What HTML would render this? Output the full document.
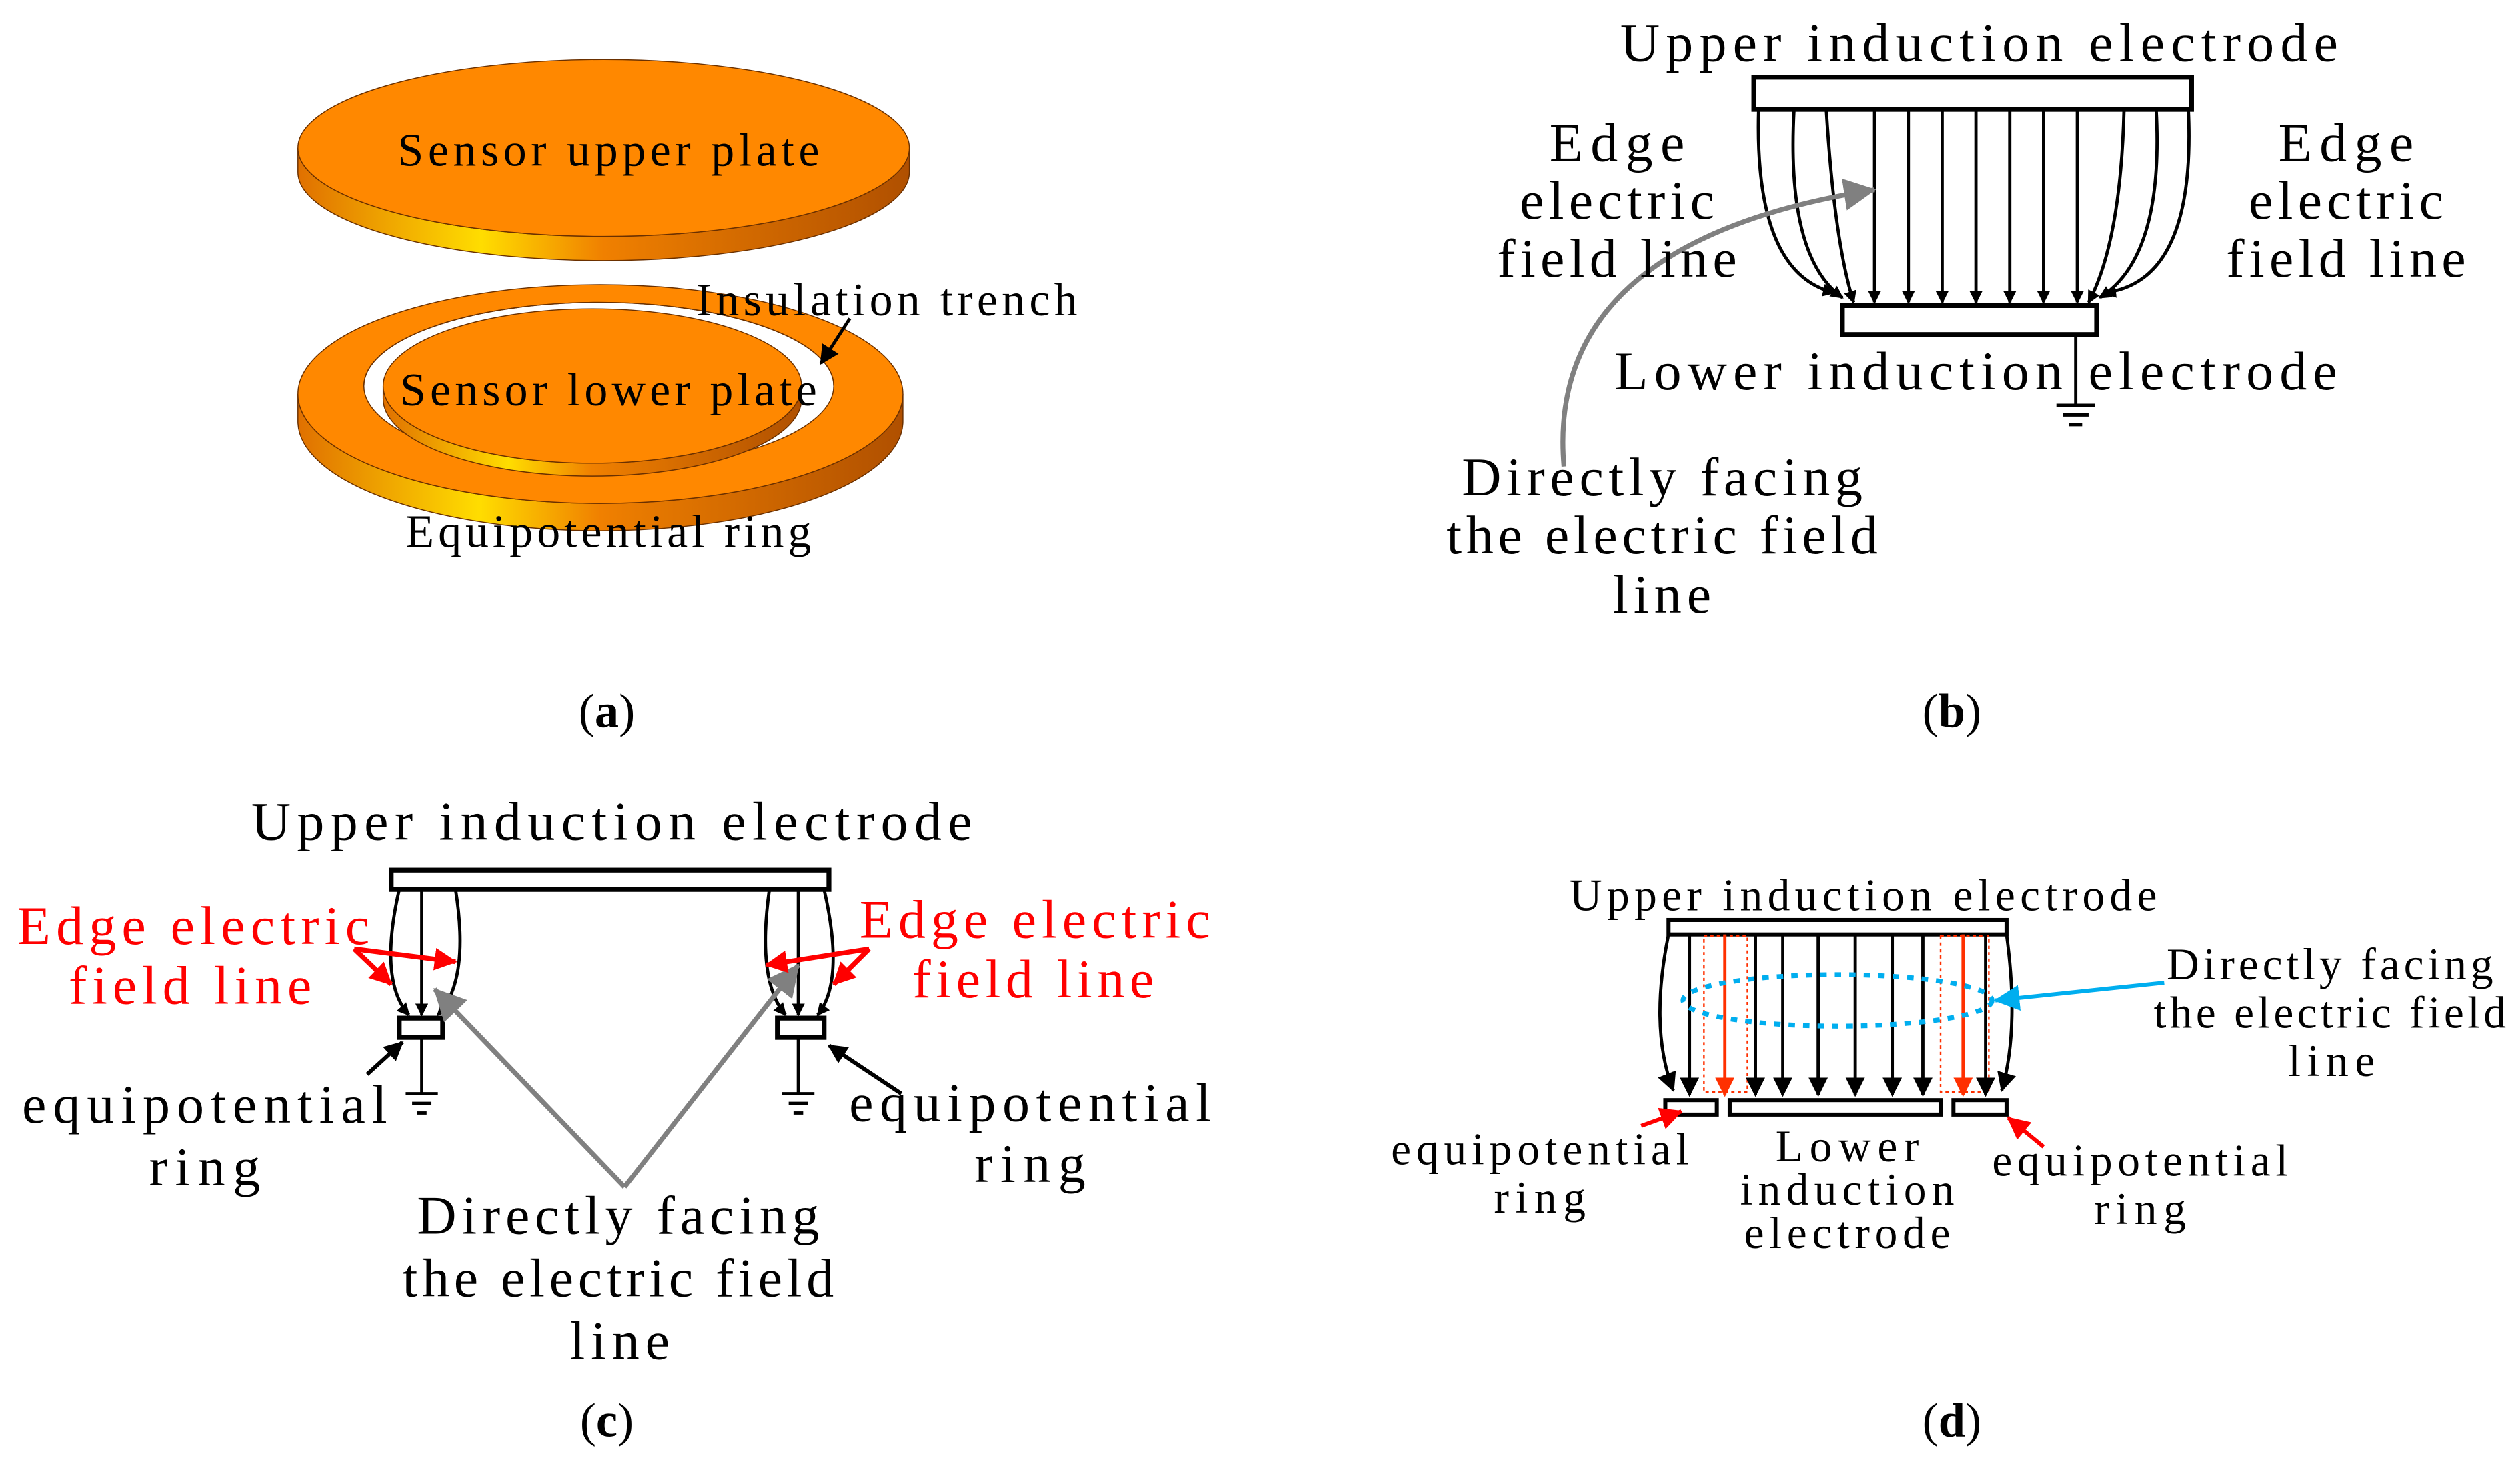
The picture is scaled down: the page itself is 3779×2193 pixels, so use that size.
<!DOCTYPE html>
<html><head><meta charset="utf-8"><style>html,body{margin:0;padding:0;background:#fff}svg{display:block}</style></head>
<body>
<svg width="3779" height="2193" viewBox="0 0 1566 909" xmlns="http://www.w3.org/2000/svg" font-family="'Liberation Serif', serif">
<defs>
<linearGradient id="side" x1="0" x2="1" y1="0" y2="0">
<stop offset="0" stop-color="#e07000"/><stop offset="0.3" stop-color="#ffdd00"/><stop offset="0.5" stop-color="#f08000"/><stop offset="1" stop-color="#b05000"/></linearGradient>
<marker id="ab" markerWidth="8" markerHeight="8" refX="7" refY="4" orient="auto" markerUnits="userSpaceOnUse"><path d="M0,0 L8,4 L0,8 z" fill="#000"/></marker>
<marker id="abig" markerWidth="12" markerHeight="12" refX="11" refY="6" orient="auto" markerUnits="userSpaceOnUse"><path d="M0,0 L12,6 L0,12 z" fill="#000"/></marker>
<marker id="ar" markerWidth="12" markerHeight="12" refX="11" refY="6" orient="auto" markerUnits="userSpaceOnUse"><path d="M0,0 L12,6 L0,12 z" fill="#ff3000"/></marker>
<marker id="ared" markerWidth="14" markerHeight="14" refX="13" refY="7" orient="auto" markerUnits="userSpaceOnUse"><path d="M0,0 L14,7 L0,14 z" fill="#f00"/></marker>
<marker id="ag" markerWidth="20" markerHeight="20" refX="19" refY="10" orient="auto" markerUnits="userSpaceOnUse"><path d="M0,0 L20,10 L0,20 z" fill="#808080"/></marker>
<marker id="abl" markerWidth="16" markerHeight="16" refX="15" refY="8" orient="auto" markerUnits="userSpaceOnUse"><path d="M0,0 L16,8 L0,16 z" fill="#00aeef"/></marker>
</defs>

<!-- Panel a -->
<g stroke="#6a3000" stroke-width="0.6">
<path d="M185,92 A190,55 0 0 0 565,92 L565,107 A190,55 0 0 1 185,107 Z" fill="url(#side)"/>
<ellipse cx="375" cy="92" rx="190" ry="55" fill="#ff8800"/>
<path d="M185,245 A188,68 0 0 0 561,245 L561,262 A188,68 0 0 1 185,262 Z" fill="url(#side)"/>
<ellipse cx="373" cy="245" rx="188" ry="68" fill="#ff8800"/>
<ellipse cx="372" cy="240" rx="146" ry="52" fill="#fff"/>
<path d="M226,240 A146,52 0 0 1 518,240 A146,52 0 0 0 226,240Z" fill="#e07a00"/>
<path d="M238,240 A130,48 0 0 0 498,240 L498,248 A130,48 0 0 1 238,248 Z" fill="url(#side)"/>
<ellipse cx="368" cy="240" rx="130" ry="48" fill="#ff8800"/>
</g>
<g font-size="29" fill="#000" text-anchor="middle" lengthAdjust="spacingAndGlyphs">
<text x="378" y="103" textLength="262">Sensor upper plate</text>
<text x="378" y="252" textLength="259">Sensor lower plate</text>
<text x="551" y="196" textLength="237">Insulation trench</text>
<text x="378" y="340" textLength="252">Equipotential ring</text>
</g>
<line x1="528" y1="198" x2="510" y2="226" stroke="#000" stroke-width="2" marker-end="url(#abig)"/>
<text x="377" y="452" font-size="30" text-anchor="middle">(<tspan font-weight="bold">a</tspan>)</text>

<!-- Panel b -->
<rect x="1090" y="48" width="272" height="20" fill="#fff" stroke="#000" stroke-width="3"/>
<rect x="1145" y="190" width="158" height="18" fill="#fff" stroke="#000" stroke-width="3"/>
<g stroke="#000" stroke-width="2" fill="none" marker-end="url(#ab)">
<line x1="1165" y1="68" x2="1165" y2="188"/><line x1="1186" y1="68" x2="1186" y2="188"/>
<line x1="1207" y1="68" x2="1207" y2="188"/><line x1="1228" y1="68" x2="1228" y2="188"/>
<line x1="1249" y1="68" x2="1249" y2="188"/><line x1="1270" y1="68" x2="1270" y2="188"/>
<line x1="1291" y1="68" x2="1291" y2="188"/>
<path d="M1135,68 Q1140,150 1152,188"/>
<path d="M1115,68 Q1110,160 1145,185"/>
<path d="M1093,68 Q1090,170 1140,182"/>
<path d="M1320,68 Q1318,150 1298,188"/>
<path d="M1340,68 Q1345,160 1305,185"/>
<path d="M1360,68 Q1365,175 1308,182"/>
</g>
<line x1="1290" y1="208" x2="1290" y2="252" stroke="#000" stroke-width="2"/>
<g stroke="#000" stroke-width="2"><line x1="1278" y1="252" x2="1302" y2="252"/><line x1="1282" y1="258" x2="1298" y2="258"/><line x1="1286" y1="264" x2="1294" y2="264"/></g>
<path d="M972,290 Q960,150 1165,118" stroke="#808080" stroke-width="3" fill="none" marker-end="url(#ag)"/>
<g font-size="34" fill="#000" text-anchor="middle" lengthAdjust="spacingAndGlyphs">
<text x="1230" y="38" textLength="446">Upper induction electrode</text>
<text x="1005" y="100" textLength="84">Edge</text><text x="1005" y="136" textLength="121">electric</text><text x="1005" y="172" textLength="149">field line</text>
<text x="1458" y="100" textLength="84">Edge</text><text x="1458" y="136" textLength="121">electric</text><text x="1458" y="172" textLength="149">field line</text>
<text x="1228" y="242" textLength="449">Lower induction electrode</text>
<text x="1033" y="308" textLength="249">Directly facing</text><text x="1033" y="344" textLength="268">the electric field</text><text x="1033" y="381" textLength="61">line</text>
</g>
<text x="1213" y="452" font-size="30" text-anchor="middle">(<tspan font-weight="bold">b</tspan>)</text>

<!-- Panel c -->
<rect x="243" y="541" width="272" height="12" fill="#fff" stroke="#000" stroke-width="3"/>
<rect x="248" y="633" width="27" height="12" fill="#fff" stroke="#000" stroke-width="3"/>
<rect x="483" y="633" width="29" height="12" fill="#fff" stroke="#000" stroke-width="3"/>
<g stroke="#000" stroke-width="2" fill="none" marker-end="url(#ab)">
<line x1="262" y1="553" x2="262" y2="631"/>
<path d="M248,553 Q235,610 254,631"/>
<path d="M283,553 Q292,610 272,631"/>
<line x1="496" y1="553" x2="496" y2="631"/>
<path d="M478,553 Q470,610 488,631"/>
<path d="M512,553 Q525,610 508,631"/>
</g>
<g stroke="#000" stroke-width="2">
<line x1="262" y1="645" x2="262" y2="680"/><line x1="252" y1="680" x2="272" y2="680"/><line x1="256" y1="686" x2="268" y2="686"/><line x1="259" y1="692" x2="265" y2="692"/>
<line x1="496" y1="645" x2="496" y2="680"/><line x1="486" y1="680" x2="506" y2="680"/><line x1="490" y1="686" x2="502" y2="686"/><line x1="493" y1="692" x2="499" y2="692"/>
</g>
<g stroke="#808080" stroke-width="3" fill="none" marker-end="url(#ag)">
<line x1="388" y1="738" x2="270" y2="615"/><line x1="388" y1="738" x2="496" y2="600"/>
</g>
<g stroke="#f00" stroke-width="3" fill="none" marker-end="url(#ared)">
<line x1="220" y1="590" x2="283" y2="598"/><line x1="220" y1="590" x2="243" y2="612"/>
<line x1="540" y1="590" x2="476" y2="600"/><line x1="540" y1="590" x2="518" y2="612"/>
</g>
<g stroke="#000" stroke-width="2.5" marker-end="url(#abig)">
<line x1="228" y1="668" x2="250" y2="648"/><line x1="560" y1="680" x2="515" y2="650"/>
</g>
<g font-size="34" text-anchor="middle" lengthAdjust="spacingAndGlyphs">
<text x="380" y="522" textLength="448">Upper induction electrode</text>
<text x="120" y="587" fill="#f00" textLength="219">Edge electric</text><text x="118" y="624" fill="#f00" textLength="151">field line</text>
<text x="643" y="583" fill="#f00" textLength="218">Edge electric</text><text x="642" y="620" fill="#f00" textLength="150">field line</text>
<text x="127" y="698" textLength="227">equipotential</text><text x="127" y="737" textLength="69">ring</text>
<text x="640" y="697" textLength="225">equipotential</text><text x="640" y="735" textLength="69">ring</text>
<text x="384" y="767" textLength="250">Directly facing</text><text x="384" y="806" textLength="268">the electric field</text><text x="385" y="845" textLength="62">line</text>
</g>
<text x="377" y="893" font-size="30" text-anchor="middle">(<tspan font-weight="bold">c</tspan>)</text>

<!-- Panel d -->
<rect x="1037" y="572" width="210" height="9" fill="#fff" stroke="#000" stroke-width="2.5"/>
<rect x="1035" y="684" width="32" height="9" fill="#fff" stroke="#000" stroke-width="2.5"/>
<rect x="1075" y="684" width="131" height="9" fill="#fff" stroke="#000" stroke-width="2.5"/>
<rect x="1214" y="684" width="33" height="9" fill="#fff" stroke="#000" stroke-width="2.5"/>
<g stroke="#ff3000" stroke-width="1" stroke-dasharray="2,2" fill="none">
<rect x="1059" y="582" width="27" height="97"/><rect x="1206" y="582" width="30" height="97"/>
</g>
<g stroke="#000" stroke-width="2" fill="none" marker-end="url(#abig)">
<line x1="1050" y1="581" x2="1050" y2="681"/>
<line x1="1091" y1="581" x2="1091" y2="681"/><line x1="1108" y1="581" x2="1108" y2="681"/>
<line x1="1130" y1="581" x2="1130" y2="681"/><line x1="1153" y1="581" x2="1153" y2="681"/>
<line x1="1176" y1="581" x2="1176" y2="681"/><line x1="1195" y1="581" x2="1195" y2="681"/>
<line x1="1234" y1="581" x2="1234" y2="681"/>
<path d="M1037,581 Q1025,640 1040,678"/>
<path d="M1247,581 Q1255,640 1244,678"/>
</g>
<g stroke="#ff3000" stroke-width="2" marker-end="url(#ar)">
<line x1="1072" y1="581" x2="1072" y2="681"/><line x1="1220" y1="581" x2="1220" y2="681"/>
</g>
<ellipse cx="1142" cy="622" rx="96" ry="16" fill="none" stroke="#00aeef" stroke-width="3" stroke-dasharray="4,5"/>
<line x1="1345" y1="611" x2="1240" y2="622" stroke="#00aeef" stroke-width="2.5" marker-end="url(#abl)"/>
<g stroke="#f00" stroke-width="2.5" marker-end="url(#ared)">
<line x1="1020" y1="700" x2="1045" y2="691"/><line x1="1270" y1="713" x2="1248" y2="695"/>
</g>
<g font-size="28" text-anchor="middle" lengthAdjust="spacingAndGlyphs">
<text x="1158" y="566" textLength="365">Upper induction electrode</text>
<text x="1448" y="609" textLength="203">Directly facing</text><text x="1448" y="639" textLength="219">the electric field</text><text x="1449" y="669" textLength="54">line</text>
<text x="957" y="724" textLength="185">equipotential</text><text x="957" y="754" textLength="57">ring</text>
<text x="1148" y="722" textLength="89">Lower</text><text x="1148" y="749" textLength="133">induction</text><text x="1148" y="776" textLength="128">electrode</text>
<text x="1330" y="731" textLength="184">equipotential</text><text x="1330" y="761" textLength="57">ring</text>
</g>
<text x="1213" y="893" font-size="30" text-anchor="middle">(<tspan font-weight="bold">d</tspan>)</text>
</svg>
</body></html>
